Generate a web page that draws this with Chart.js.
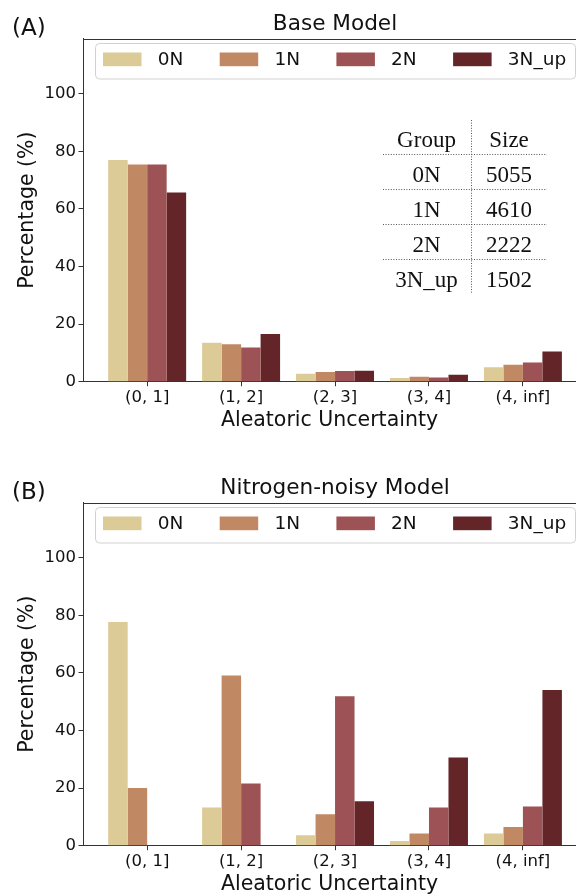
<!DOCTYPE html>
<html>
<head>
<meta charset="utf-8">
<script src="https://cdn.jsdelivr.net/npm/chart.js@4.4.1/dist/chart.umd.min.js"></script>
<style>
  html, body { margin: 0; padding: 0; background: #fff; overflow: hidden; width: 576px; height: 894px; }
  .panel { position: absolute; left: 0; width: 576px; height: 433px; }
</style>
</head>
<body>
<div class="panel" style="top:0"><canvas id="chart-a" width="576" height="433"></canvas></div>
<div class="panel" style="top:464px"><canvas id="chart-b" width="576" height="433"></canvas></div>
<script>
const categories = ["(0, 1]", "(1, 2]", "(2, 3]", "(3, 4]", "(4, inf]"];
const groups = ["0N", "1N", "2N", "3N_up"];
const colors = ["#dccb96", "#c18963", "#9d5355", "#642528"];
const yTicks = [0, 20, 40, 60, 80, 100];

// panel A: base model
const base0N = [77.0, 13.5, 2.8, 1.3, 5.0];
const base1N = [75.4, 13.0, 3.4, 1.7, 5.9];
const base2N = [75.4, 11.9, 3.7, 1.5, 6.7];
const base3Nup = [65.7, 16.6, 3.8, 2.4, 10.5];

// panel B: nitrogen-noisy model
const noisy0N = [77.7, 13.3, 3.6, 1.6, 4.2];
const noisy1N = [20.0, 59.1, 10.9, 4.2, 6.5];
const noisy2N = [0, 21.6, 51.9, 13.3, 13.6];
const noisy3Nup = [0, 0, 15.4, 30.6, 54.1];

// group size table (panel A)
const tableGroups = ["0N", "1N", "2N", "3N_up"];
const tableSizes = ["5055", "4610", "2222", "1502"];

const FONT = "DejaVu Sans";
const INK = "#111";
const SPINE = "#333";

const decor = {
  id: "decor",
  afterDraw(chart, args, opts) {
    const { ctx, chartArea: a } = chart;
    ctx.save();

    // top spine
    ctx.strokeStyle = SPINE;
    ctx.lineWidth = 1;
    ctx.beginPath();
    ctx.moveTo(a.left, Math.round(a.top) + 0.5);
    ctx.lineTo(a.right, Math.round(a.top) + 0.5);
    ctx.stroke();

    // panel letter + title
    ctx.fillStyle = INK;
    ctx.font = `23px '${FONT}'`;
    ctx.textAlign = "left";
    ctx.textBaseline = "middle";
    ctx.fillText(opts.letter, 12, a.top - 9.5);
    ctx.font = `21.6px '${FONT}'`;
    ctx.textAlign = "center";
    ctx.textBaseline = "alphabetic";
    ctx.fillText(opts.title, 335, a.top - 9);

    // legend box
    const bx = 95, by = a.top + 4.5, bw = 480, bh = 35.5, r = 4;
    ctx.beginPath();
    ctx.roundRect(bx + 0.5, by + 0.5, bw, bh, r);
    ctx.fillStyle = "rgba(255,255,255,0.8)";
    ctx.fill();
    ctx.strokeStyle = "#d2d2d2";
    ctx.stroke();
    ctx.font = `18.5px '${FONT}'`;
    ctx.textAlign = "left";
    ctx.textBaseline = "middle";
    chart.data.datasets.forEach((ds, i) => {
      const sx = 103 + i * 116.7;
      ctx.fillStyle = ds.backgroundColor;
      ctx.fillRect(sx, a.top + 14, 38.5, 13.7);
      ctx.fillStyle = INK;
      ctx.fillText(ds.label, sx + 54.7, a.top + 21.5);
    });

    // size table
    if (opts.table) {
      ctx.strokeStyle = "#555";
      ctx.lineWidth = 1;
      ctx.setLineDash([1, 1.6]);
      ctx.beginPath();
      ctx.moveTo(471.5, 120);
      ctx.lineTo(471.5, 293);
      for (let k = 0; k < 4; k++) {
        const ly = 154.5 + k * 35;
        ctx.moveTo(383, ly);
        ctx.lineTo(547, ly);
      }
      ctx.stroke();
      ctx.setLineDash([]);
      ctx.fillStyle = INK;
      ctx.font = "23px 'Liberation Serif'";
      ctx.textAlign = "center";
      ctx.textBaseline = "alphabetic";
      ctx.fillText("Group", 426.5, 146.7);
      ctx.fillText("Size", 509, 146.7);
      tableGroups.forEach((g, i) => {
        ctx.fillText(g, 426.5, 181.7 + i * 35);
        ctx.fillText(tableSizes[i], 509, 181.7 + i * 35);
      });
    }
    ctx.restore();
  }
};

function createPanel(ctx, series, letter, title, table) {
  return new Chart(ctx, {
    type: "bar",
    data: {
      datasets: series.map((vals, i) => ({
        label: groups[i],
        data: vals.map((v, j) => ({ x: j, y: v })),
        backgroundColor: colors[i],
        borderWidth: 0,
        barPercentage: 1.0,
        categoryPercentage: 0.83
      }))
    },
    options: {
      responsive: false,
      animation: false,
      layout: { padding: { top: 38.5, left: 0, right: 0, bottom: 0 } },
      plugins: {
        legend: { display: false },
        tooltip: { enabled: false },
        decor: { letter, title, table }
      },
      scales: {
        x: {
          type: "linear",
          min: -0.683,
          max: 4.565,
          offset: false,
          afterFit(s) { s.height = 433 - 381.7; },
          afterBuildTicks(s) { s.ticks = categories.map((c, i) => ({ value: i })); },
          border: { display: true, color: SPINE, width: 1 },
          grid: { display: true, offset: false, drawOnChartArea: false, drawTicks: true, tickLength: 4.5, color: SPINE },
          ticks: {
            autoSkip: false,
            maxRotation: 0,
            padding: 2,
            color: INK,
            font: { family: FONT, size: 16.5 },
            callback: v => categories[v]
          },
          title: {
            display: true,
            text: "Aleatoric Uncertainty",
            color: INK,
            font: { family: FONT, size: 20.5 },
            padding: { top: 0, bottom: 0 }
          }
        },
        y: {
          min: 0,
          max: 119.2,
          afterFit(s) { s.width = 83; },
          afterBuildTicks(s) { s.ticks = yTicks.map(v => ({ value: v })); },
          border: { display: true, color: SPINE, width: 1 },
          grid: { display: true, drawOnChartArea: false, drawTicks: true, tickLength: 4.5, color: SPINE },
          ticks: { padding: 2.5, color: INK, font: { family: FONT, size: 16.5 } },
          title: {
            display: true,
            text: "Percentage (%)",
            color: INK,
            font: { family: FONT, size: 20.5 },
            padding: { top: 15, bottom: 0 }
          }
        }
      }
    },
    plugins: [decor]
  });
}

const chartA = createPanel(
  document.getElementById("chart-a").getContext("2d"),
  [base0N, base1N, base2N, base3Nup],
  "(A)", "Base Model", true
);

const chartB = createPanel(
  document.getElementById("chart-b").getContext("2d"),
  [noisy0N, noisy1N, noisy2N, noisy3Nup],
  "(B)", "Nitrogen-noisy Model", false
);
</script>
</body>
</html>
